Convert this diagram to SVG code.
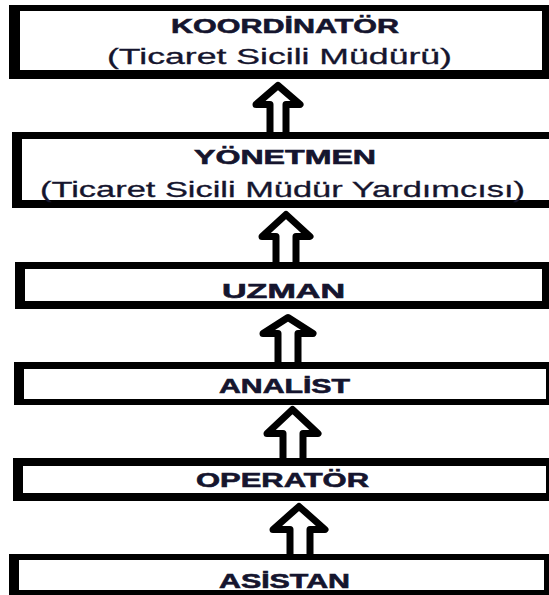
<svg xmlns="http://www.w3.org/2000/svg" width="549" height="595" viewBox="0 0 549 595">
  <style>
    .frame { fill: #000; }
    .inner { fill: #fff; }
    .title { font-family: "Liberation Sans", Arial, sans-serif; font-weight: bold; font-size: 20px; fill: #15152e; stroke: #15152e; stroke-width: 0.6; text-anchor: start; }
    .sub { font-family: "Liberation Sans", Arial, sans-serif; font-size: 22px; fill: #15152e; stroke: #15152e; stroke-width: 0.3; text-anchor: start; }
    .arrow { fill: #fff; stroke: #000; stroke-width: 7; stroke-linejoin: round; }
  </style>
  <rect width="549" height="595" fill="#fff"/>

  <!-- hollow up-arrows between levels -->
  <g id="connectors">
    <polygon class="arrow" points="278,85.5 300,104.5 286,104.5 286,136 270,136 270,104.5 256,104.5"/>
    <polygon class="arrow" points="286,214.5 310,236.5 296,236.5 296,266 276,266 276,236.5 262,236.5"/>
    <polygon class="arrow" points="288,317.5 313,333.5 298,333.5 298,366 278,366 278,333.5 263,333.5"/>
    <polygon class="arrow" points="292.5,409.5 318,433.5 303,433.5 303,462 283,462 283,433.5 267,433.5"/>
    <polygon class="arrow" points="299,506.5 325,529.5 310,529.5 310,558 290,558 290,529.5 273,529.5"/>
  </g>

  <g id="koordinator">
    <rect class="frame" x="9" y="5" width="545" height="74"/>
    <rect class="inner" x="20" y="11" width="522" height="59"/>
    <text class="title" x="171" y="33" textLength="228" lengthAdjust="spacingAndGlyphs">KOORDİNATÖR</text>
    <text class="sub" x="107" y="64" textLength="345" lengthAdjust="spacingAndGlyphs">(Ticaret Sicili Müdürü)</text>
  </g>

  <g id="yonetmen">
    <rect class="frame" x="12" y="132" width="545" height="76"/>
    <rect class="inner" x="22" y="139" width="535" height="61"/>
    <text class="title" x="194" y="164" textLength="182" lengthAdjust="spacingAndGlyphs">YÖNETMEN</text>
    <text class="sub" x="40" y="197" textLength="485" lengthAdjust="spacingAndGlyphs">(Ticaret Sicili Müdür Yardımcısı)</text>
  </g>

  <g id="uzman">
    <rect class="frame" x="15" y="262" width="534" height="47"/>
    <rect class="inner" x="25" y="269" width="517" height="32"/>
    <text class="title" x="222" y="298" textLength="123" lengthAdjust="spacingAndGlyphs">UZMAN</text>
  </g>

  <g id="analist">
    <rect class="frame" x="14" y="362" width="540" height="43"/>
    <rect class="inner" x="24" y="369" width="522" height="30"/>
    <text class="title" x="219" y="393" textLength="131" lengthAdjust="spacingAndGlyphs">ANALİST</text>
  </g>

  <g id="operator">
    <rect class="frame" x="13" y="458" width="541" height="43"/>
    <rect class="inner" x="23" y="466" width="523" height="27"/>
    <text class="title" x="196" y="487" textLength="173" lengthAdjust="spacingAndGlyphs">OPERATÖR</text>
  </g>

  <g id="asistan">
    <rect class="frame" x="9" y="554" width="545" height="41"/>
    <rect class="inner" x="19" y="560" width="525" height="30"/>
    <text class="title" x="219" y="588" textLength="131" lengthAdjust="spacingAndGlyphs">ASİSTAN</text>
  </g>
</svg>
